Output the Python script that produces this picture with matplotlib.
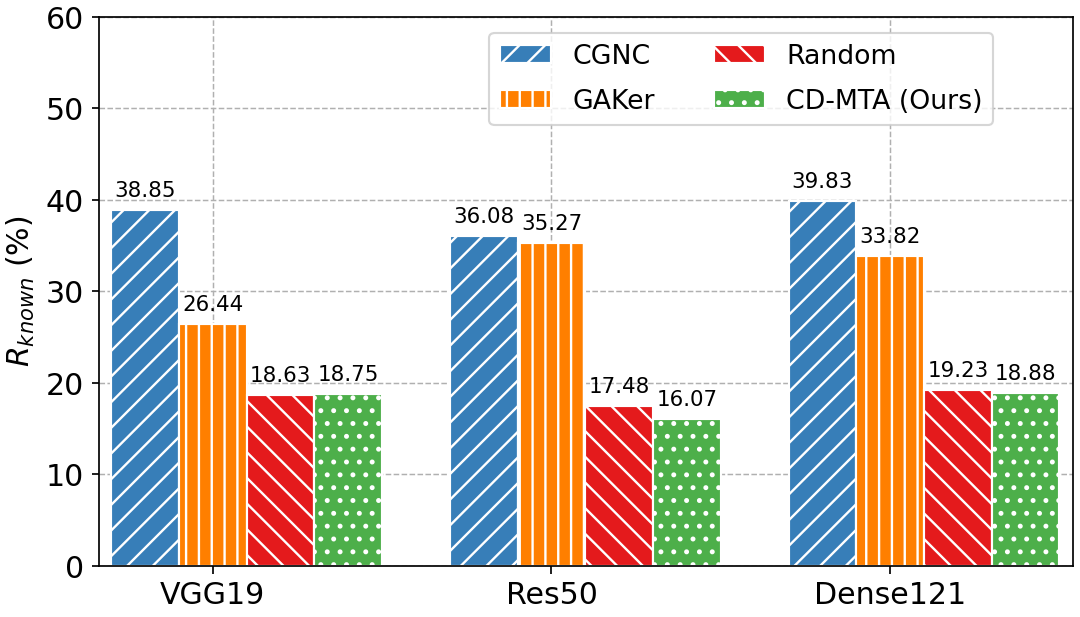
import numpy as np
import matplotlib
matplotlib.use("Agg")
import matplotlib.pyplot as plt

models = ["VGG19", "Res50", "Dense121"]
methods = ["CGNC", "GAKer", "Random", "CD-MTA (Ours)"]
cgnc = [38.85, 36.08, 39.83]
gaker = [26.44, 35.27, 33.82]
rand = [18.63, 17.48, 19.23]
cdmta = [18.75, 16.07, 18.88]

colors = ["#377eb8", "#ff7f00", "#e41a1c", "#4daf4a"]
hatches = ["//", "||", "\\\\", ".."]

plt.rcParams["hatch.color"] = "white"
plt.rcParams["hatch.linewidth"] = 1.1

fig = plt.figure(figsize=(7, 4), dpi=1080 / 7)
ax = fig.add_axes([0.0917, 0.0827, 0.9018, 0.8897])
ax.set_axisbelow(True)
ax.grid(True, linestyle="--", color="#b0b0b0", linewidth=0.7)

x = np.arange(len(models))
width = 0.2
series = [cgnc, gaker, rand, cdmta]
for i, vals in enumerate(series):
    pos = x + (i - 1) * width
    ax.bar(pos, vals, width, color=colors[i], edgecolor="white", linewidth=1.0,
           hatch=hatches[i], label=methods[i])
    for px, v in zip(pos, vals):
        ax.text(px, v + 1, "%.2f" % v, ha="center", va="bottom", fontsize=10)

ax.set_xticks(x)
ax.set_xticklabels(models, fontsize=14)
ax.set_xlim(-0.336, 2.54)
ax.set_ylim(0, 60)
ax.set_yticks(range(0, 61, 10))
ax.tick_params(axis="y", labelsize=14)
ax.set_ylabel("$R_{known}$ (%)", fontsize=14)

ax.legend(ncol=2, loc="upper right", bbox_to_anchor=(0.932, 0.995), fontsize=12.5,
          handlelength=1.9, handleheight=0.65, columnspacing=2.2, labelspacing=0.7)

fig.savefig("out.png", dpi=1080 / 7)
